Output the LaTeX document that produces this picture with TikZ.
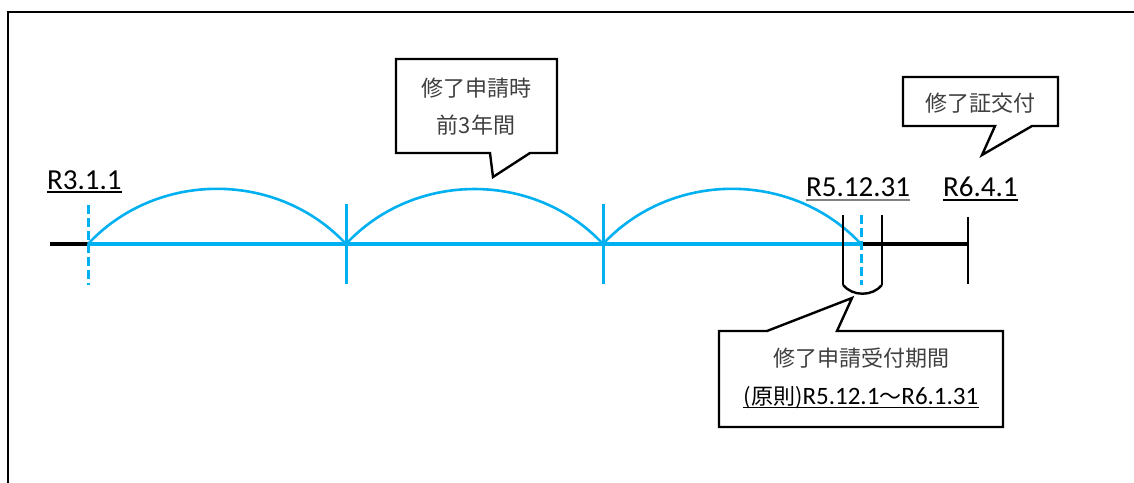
\documentclass[tikz,border=0pt]{standalone}
\usepackage{fontspec}
\setmainfont{Carlito}
\newfontfamily\jp{Noto Sans CJK JP}
\definecolor{tblue}{HTML}{00B0F0}
\definecolor{jtext}{HTML}{404040}
\begin{document}
\begin{tikzpicture}[x=1pt,y=1pt,
  bluel/.style={draw=tblue,line width=2.6pt},
  bluedash/.style={draw=tblue,line width=3pt,dash pattern=on 9pt off 4pt},
  blk/.style={draw=black,line width=2.4pt},
  bubble/.style={draw=black,line width=2.4pt,fill=white,line join=miter},
  datelab/.style={inner sep=0pt,anchor=base west,font=\fontsize{29}{34}\selectfont},
  jptext/.style={inner sep=0pt,text=jtext,font=\jp\fontsize{22}{26}\selectfont},
  uline/.style={line width=1.6pt}]
\useasboundingbox (0,0) rectangle (1134,482);
% frame
\draw[line width=2.4pt] (8,-5) -- (8,470) -- (1140,470);
% timeline coordinates
\coordinate (L) at (50,238);
\coordinate (A) at (88,238);
\coordinate (B) at (346,238);
\coordinate (C) at (603,238);
\coordinate (D) at (861,238);
\coordinate (E) at (968,238);
% black segments
\draw[line width=4.5pt] (L) -- (A);
\draw[line width=4.5pt] (D) -- (E);
% blue line
\draw[draw=tblue,line width=3.5pt] (A) -- (D);
% arcs
\draw[bluel] (A) to[out=47,in=133] (B);
\draw[bluel] (B) to[out=47,in=133] (C);
\draw[bluel] (C) to[out=47,in=133] (D);
% verticals
\draw[bluedash] (88,277) -- (88,197);
\draw[bluel,line width=3pt] (346,278) -- (346,198);
\draw[bluel,line width=3pt] (603,278) -- (603,198);
\draw[bluedash] (861,267) -- (861,197);
\coordinate (P1) at (843,197);
\coordinate (P2) at (882,197);
\draw[blk] (843,267) -- (P1);
\draw[blk] (882,267) -- (P2);
\draw[blk] (P1) to[out=-50,in=-130] (P2);
\draw[blk] (968,265) -- (968,198);
% date labels
\node[datelab] (d1) at (47,292) {R3.1.1};
\node[datelab] (d2) at (806,285) {R5.12.31};
\node[datelab] (d3) at (943,285) {R6.4.1};
\draw[uline] ([yshift=-2pt]d1.base west) -- ([yshift=-2pt]d1.base east);
\draw[uline,draw=gray] ([yshift=-3pt]d2.base west) -- ([yshift=-3pt]d2.base east);
\draw[uline] ([yshift=-3pt]d3.base west) -- ([yshift=-3pt]d3.base east);
% bubble 1
\draw[bubble] (396,423) -- (557,423) -- (557,329) -- (530,329) -- (493,305) -- (490,329) -- (396,329) -- cycle;
\node[jptext] (b1a) at (476,394) {修了申請時};
\node[jptext] (b1b) at (476,357) {前3年間};
% bubble 2
\draw[bubble] (903,405) -- (1058,405) -- (1058,356) -- (1032,356) -- (982,327) -- (995,356) -- (903,356) -- cycle;
\node[jptext] (b2) at (980,379) {修了証交付};
% bubble 3
\draw[bubble] (719,151) -- (767,151) -- (852,184) -- (837,151) -- (1003,151) -- (1003,55) -- (719,55) -- cycle;
\node[jptext] (b3a) at (861,124) {修了申請受付期間};
\node[jptext,text=black] (b3b) at (861,84) {\jp(原則)\fontspec{Carlito}\fontsize{25}{30}\selectfont R5.12.1\jp\fontsize{22}{26}\selectfont ～\fontspec{Carlito}\fontsize{25}{30}\selectfont R6.1.31};
\draw[uline] ([yshift=-2.5pt]b3b.base west) -- ([yshift=-2.5pt]b3b.base east);
\end{tikzpicture}
\end{document}
